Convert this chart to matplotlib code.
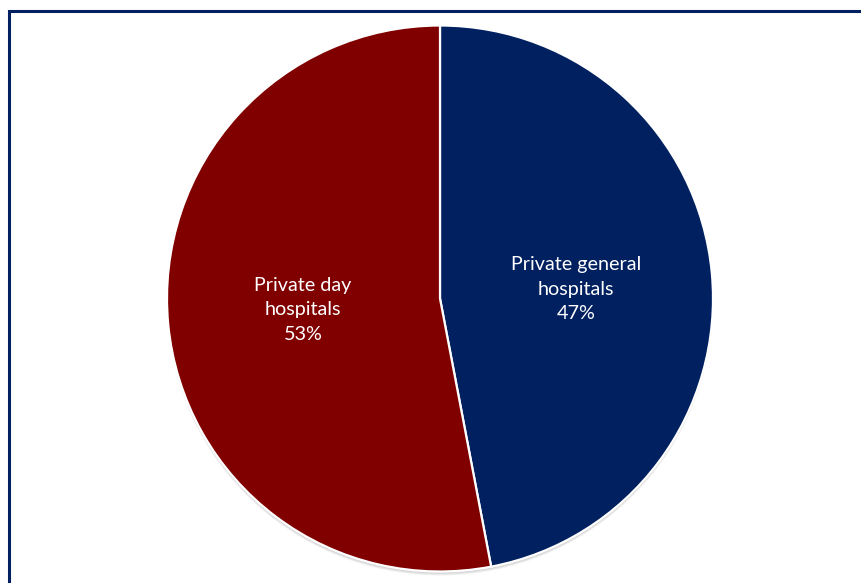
import matplotlib
matplotlib.use('Agg')
import matplotlib.pyplot as plt
from matplotlib.patches import Circle, Rectangle

# hospital mix
labels = ['Private general\nhospitals', 'Private day\nhospitals']
shares = [47, 53]
colors = ['#002060', '#800000']

W, H = 861, 583
fig = plt.figure(figsize=(W / 100, H / 100), dpi=100)
ax = fig.add_axes([0, 0, 1, 1])

cx, cy, r = 440, H - 298.5, 273

# soft drop shadow under the pie
for dy, a in [(4, 0.10), (3, 0.12), (2, 0.15)]:
    ax.add_patch(Circle((cx, cy - dy), r, color='#7f7f7f', alpha=a, lw=0, zorder=0))

wedges, _ = ax.pie(shares, colors=colors, startangle=90, counterclock=False,
                   center=(cx, cy), radius=r,
                   wedgeprops=dict(edgecolor='white', linewidth=1.6))
for w in wedges:
    w.set_zorder(1)

# slice labels
label_pos = [(576, H - 289), (303, H - 310)]
for lab, val, (x, y) in zip(labels, shares, label_pos):
    ax.text(x, y, f'{lab}\n{val}%', ha='center', va='center', color='white',
            fontsize=14.2, family='Lato', linespacing=1.55, zorder=3)

# chart frame
ax.add_patch(Rectangle((8.5, -20), W + 40, H - 11 + 20, fill=False,
                       edgecolor='#002060', linewidth=2.2, zorder=4))

ax.set_xlim(0, W)
ax.set_ylim(0, H)
ax.set_aspect('auto')
ax.axis('off')

fig.savefig('out.png', dpi=100)
